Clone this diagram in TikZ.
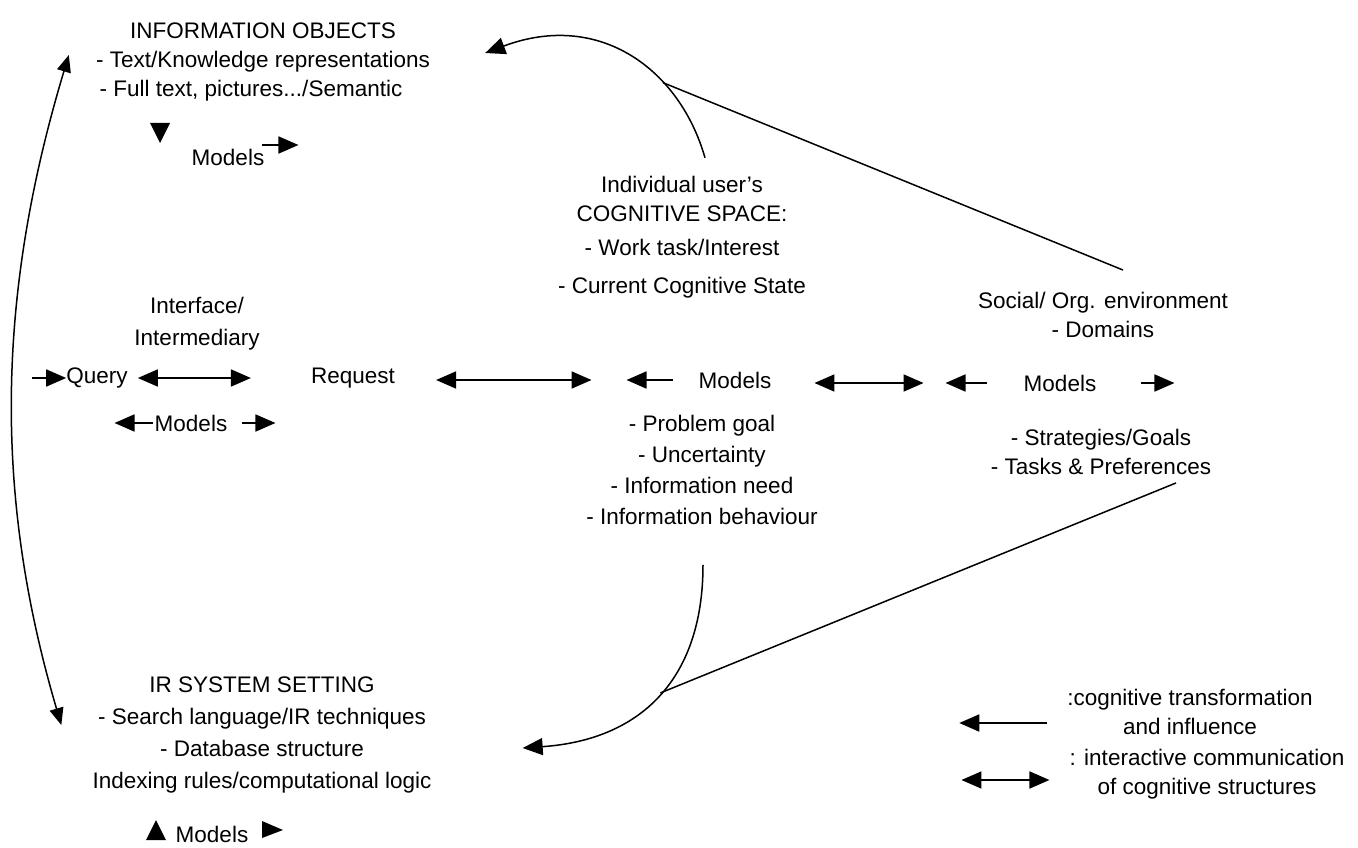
\documentclass[tikz,border=0pt]{standalone}
\usepackage{fontspec}
\setmainfont{Liberation Sans}
\usetikzlibrary{arrows.meta}
\begin{document}
\begin{tikzpicture}[x=1pt,y=-1pt,
  every node/.style={font=\fontsize{22.5}{29}\selectfont, inner sep=0pt, align=center},
  wide/.style={font=\fontsize{22.5}{31}\selectfont},
  wider/.style={font=\fontsize{22.5}{32}\selectfont},
  curve/.style={line width=1.5pt},
  influence/.style={line width=1.8pt, -{Triangle[length=20pt,width=17pt]}},
  interact/.style={line width=1.8pt, {Triangle[length=20pt,width=17pt]}-{Triangle[length=20pt,width=17pt]}},
  curvetip/.style={line width=1.5pt, -{Triangle[length=20pt,width=17pt]}},
  curvebi/.style={line width=1.5pt, {Triangle[length=17pt,width=14pt]}-{Triangle[length=17pt,width=14pt]}}]
\useasboundingbox (0,0) rectangle (1358,848);

% ---------- text blocks ----------
\node (info) at (263,62) {INFORMATION OBJECTS\\- Text/Knowledge representations\\- Full text, pictures.../Semantic\hspace*{24pt}};
\node (mtop) at (228,157) {Models};

\node (cog) at (682,237) {Individual user's\\COGNITIVE SPACE:\\[5pt]- Work task/Interest\\[9pt]- Current Cognitive State};

\node (iface) at (197,324) {Interface/\\[3pt]Intermediary};
\node (query) at (97,378) {Query};
\node (request) at (353,378) {Request};
\node (mleft) at (191,423) {Models};

\node (mcog) at (735,380) {Models};
\node[wide] (needs) at (702,470) {- Problem goal\\- Uncertainty\\- Information need\\- Information behaviour};

\node (social) at (1103,315) {Social/ Org. environment\\- Domains};
\node (msoc) at (1060,383) {Models};
\node (strat) at (1101,452) {- Strategies/Goals\\- Tasks \& Preferences};

\node[wider] (ir) at (262,735) {IR SYSTEM SETTING\\- Search language/IR techniques\\- Database structure\\Indexing rules/computational logic};
\node (mir) at (212,834) {Models};

\node (leg1) at (1190,712) {:cognitive transformation\\and influence};
\node (leg2) at (1207,774) {: interactive communication\\of cognitive structures};

% ---------- lone arrow heads beside the Models labels ----------
\fill (150,123) -- (170,123) -- (160,143) -- cycle;
\fill (146,840) -- (166,840) -- (156,820) -- cycle;
\fill (262,821) -- (283,830) -- (262,838) -- cycle;

% ---------- curved connectors ----------
\draw[curvebi] ([shift={(-27,-7)}]info.west) .. controls (-5,300) and (-5,500) .. ([shift={(-31,-10)}]ir.west);

\draw[curvetip] ([shift={(23,-18)}]cog.north) .. controls (680,70) and (600,10) .. ([shift={(55,-9)}]info.east)
  coordinate[pos=0.33] (joinTop);
\draw[curve] ([shift={(20,-22)}]social.north) -- (joinTop);

\draw[curvetip] ([shift={(1,40)}]needs.south) .. controls (703,680) and (640,740) .. ([shift={(91,13)}]ir.east)
  coordinate[pos=0.48] (joinBottom);
\draw[curve] ([shift={(75,8)}]strat.south) -- (joinBottom);

% ---------- horizontal arrows ----------
\draw[influence] ([xshift=-34pt]query.west) -- (query.west);
\draw[interact] ([xshift=10pt]query.east) -- ([xshift=-60pt]request.west);
\draw[influence] ([xshift=-2pt]mleft.west) -- ([xshift=-40pt]mleft.west);
\draw[influence] ([xshift=15pt]mleft.east) -- ([xshift=48pt]mleft.east);
\draw[influence] ([xshift=-2pt,yshift=12pt]mtop.east) -- ([xshift=34pt,yshift=12pt]mtop.east);

\draw[interact] ([xshift=41pt,yshift=-2pt]request.east) -- ([xshift=-107pt]mcog.west);
\draw[influence] ([xshift=-26pt]mcog.west) -- ([xshift=-72pt]mcog.west);
\draw[interact] ([xshift=43pt,yshift=-3pt]mcog.east) -- ([xshift=-100pt]msoc.west);
\draw[influence] ([xshift=-37pt]msoc.west) -- ([xshift=-78pt]msoc.west);
\draw[influence] ([xshift=45pt]msoc.east) -- ([xshift=78pt]msoc.east);

% ---------- legend ----------
\draw[influence] ([shift={(-20,11)}]leg1.west) -- ([shift={(-108,11)}]leg1.west);
\draw[interact] ([shift={(-108,6)}]leg2.west) -- ([shift={(-20,6)}]leg2.west);
\end{tikzpicture}
\end{document}
